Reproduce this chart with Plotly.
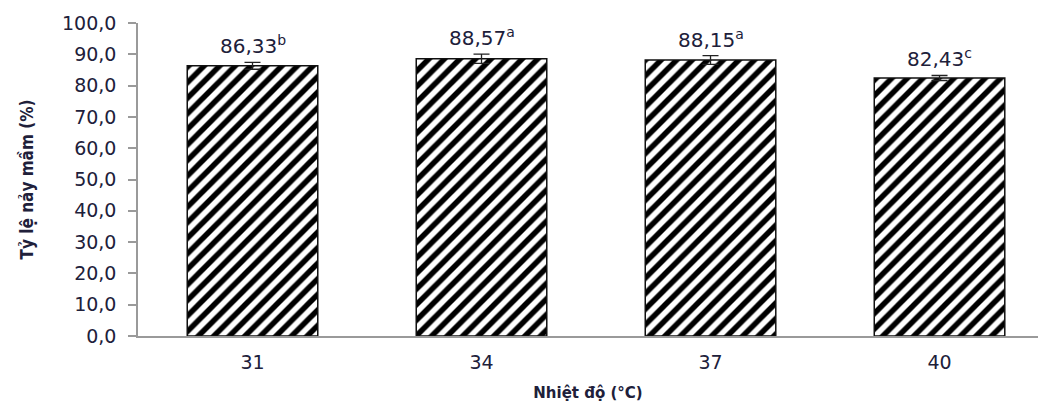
import plotly.graph_objects as go

# Germination rate by incubation temperature
temperatures = ["31", "34", "37", "40"]
germination = [86.33, 88.57, 88.15, 82.43]
std_err = [1.1, 1.5, 1.4, 0.8]
letters = ["b", "a", "a", "c"]
y_ticks = [0, 10, 20, 30, 40, 50, 60, 70, 80, 90, 100]

text_color = "#20203a"
axis_color = "#9a9a9a"

fig = go.Figure()
fig.add_trace(go.Bar(
    x=temperatures,
    y=germination,
    width=0.57,
    marker=dict(
        color="white",
        line=dict(color="#111111", width=1.5),
        pattern=dict(shape="/", size=11, solidity=0.5, fgcolor="black",
                     fgopacity=1, bgcolor="white"),
    ),
    error_y=dict(type="data", array=std_err, visible=True, color="#222222",
                 thickness=1.3, width=8),
    hoverinfo="skip",
))

# value labels with significance letters, placed by category index
for i, (v, e, l) in enumerate(zip(germination, std_err, letters)):
    label = f"{v:.2f}".replace(".", ",") + f"<sup>{l}</sup>"
    fig.add_annotation(x=i, y=v + e, xref="x", yref="y", text=label,
                       showarrow=False, yanchor="bottom", yshift=2,
                       font=dict(family="DejaVu Sans", size=20, color=text_color))

fig.update_layout(
    width=1038, height=402,
    margin=dict(l=138, r=0, t=23, b=66),
    paper_bgcolor="white", plot_bgcolor="white",
    separators=",.",
    showlegend=False,
)
fig.update_xaxes(
    type="category", range=[-0.5, 3.43],
    showline=True, linecolor=axis_color, linewidth=1.5,
    ticks="", showgrid=False, ticklabelstandoff=8,
    tickfont=dict(family="DejaVu Sans", size=19, color=text_color),
    title=dict(text="<b>Nhiệt độ (°C)</b>", standoff=16,
               font=dict(family="DejaVu Sans", size=15, color=text_color)),
)
fig.update_yaxes(
    range=[0, 100], tickvals=y_ticks, tickformat=".1f",
    showline=True, linecolor=axis_color, linewidth=1.5,
    ticks="outside", ticklen=8, tickcolor=axis_color, tickwidth=1.5,
    showgrid=False, zeroline=False, ticklabelstandoff=8,
    tickfont=dict(family="DejaVu Sans", size=19, color=text_color),
    title=dict(text="<b>Tỷ lệ nảy mầm (%)</b>", standoff=24,
               font=dict(family="Liberation Sans Narrow, DejaVu Sans Condensed", size=17,
                         color=text_color)),
)

fig.write_html("out.html")
